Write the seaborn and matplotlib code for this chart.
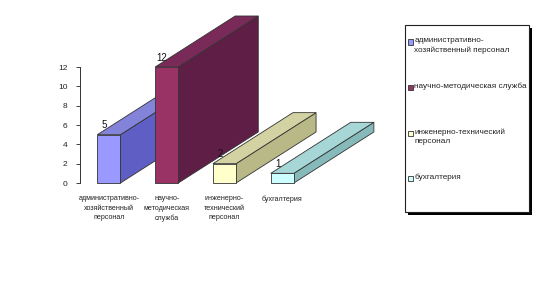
import matplotlib
matplotlib.use("Agg")
import matplotlib.pyplot as plt
from matplotlib.patches import Polygon, Rectangle
import seaborn as sns
import pandas as pd

categories = ["административно-\nхозяйственный\nперсонал",
              "научно-\nметодическая\nслужба",
              "инженерно-\nтехнический\nперсонал",
              "бухгалтерия"]
legend_labels = ["административно-\nхозяйственный персонал",
                 "научно-методическая служба",
                 "инженерно-технический\nперсонал",
                 "бухгалтерия"]
values = [5, 12, 2, 1]
yticks = [0, 2, 4, 6, 8, 10, 12]

front_colors = ["#9999FF", "#993366", "#FFFFCC", "#CCFFFF"]
side_colors = ["#5E5EC4", "#5F1E45", "#B9B987", "#86BABA"]
top_colors = ["#8383DA", "#7A2A58", "#D2D2A2", "#A6D6D6"]

sns.set_theme(style="white")
plt.rcParams['font.family'] = ['Liberation Sans', 'DejaVu Sans']

fig = plt.figure(figsize=(5.55, 2.83), dpi=100)
W, H = 555, 283
ax = fig.add_axes([80 / W, (H - 183) / H, 300 / W, 173 / H])
ax.patch.set_alpha(0)

df = pd.DataFrame({"cat": categories, "val": values})
sns.barplot(data=df, x="cat", y="val", hue="cat", palette=front_colors,
            width=0.4, legend=False, ax=ax, saturation=1,
            edgecolor="#333333", linewidth=0.6)

ax.set_xlim(-0.5, 4.69)
ax.set_ylim(0, 17.9)
dx = 80 / 57.8
dy = 51 / 9.66

for i, p in enumerate(ax.patches):
    x0, w, h = p.get_x(), p.get_width(), p.get_height()
    side = Polygon([(x0 + w, 0), (x0 + w + dx, dy), (x0 + w + dx, h + dy), (x0 + w, h)],
                   closed=True, facecolor=side_colors[i], edgecolor="#333333",
                   linewidth=0.6, clip_on=False, zorder=2 + 2 * i)
    top = Polygon([(x0, h), (x0 + dx, h + dy), (x0 + w + dx, h + dy), (x0 + w, h)],
                  closed=True, facecolor=top_colors[i], edgecolor="#333333",
                  linewidth=0.6, clip_on=False, zorder=2 + 2 * i)
    ax.add_patch(side)
    ax.add_patch(top)
    p.set_zorder(3 + 2 * i)
    p.set_clip_on(False)
    ax.text(x0 + w * 0.3, h + 0.45, str(values[i]), ha="center", va="bottom",
            fontsize=7, color="#111111", zorder=3 + 2 * i)

ax.set_xlabel("")
ax.set_ylabel("")
ax.set_yticks(yticks)
ax.set_yticklabels([str(t) for t in yticks])
ax.tick_params(axis="y", length=3, width=0.6, pad=6, labelsize=6, colors="#222222",
               left=True, direction="out")
ax.tick_params(axis="x", length=0, pad=9, labelsize=5.1, colors="#222222")
for lbl in ax.get_xticklabels():
    lbl.set_linespacing(1.45)
for s in ["top", "right", "bottom"]:
    ax.spines[s].set_visible(False)
ax.spines["left"].set_bounds(0, 12)
ax.spines["left"].set_color("#333333")
ax.spines["left"].set_linewidth(0.7)

# legend box
bx0, by0, bx1, by1 = 405, 25, 529, 212
shadow = Rectangle(((bx0 + 3) / W, (H - by1 - 3) / H), (bx1 - bx0) / W, (by1 - by0) / H,
                   transform=fig.transFigure, facecolor="black", edgecolor="none", zorder=1)
box = Rectangle((bx0 / W, (H - by1) / H), (bx1 - bx0) / W, (by1 - by0) / H,
                transform=fig.transFigure, facecolor="white", edgecolor="#222222",
                linewidth=0.8, zorder=2)
fig.patches.extend([shadow, box])
entry_y = [42, 87, 133, 178]
for i, lab in enumerate(legend_labels):
    yy = entry_y[i]
    fig.patches.append(Rectangle((408 / W, (H - yy - 2.5) / H), 5 / W, 5 / H,
                                 transform=fig.transFigure, facecolor=front_colors[i],
                                 edgecolor="#333333", linewidth=0.6, zorder=3))
    fig.text(414.5 / W, (H - yy + 4.8) / H, lab, ha="left", va="top", fontsize=5.85,
             color="#222222", linespacing=1.4, zorder=4)

fig.savefig("out.png", dpi=100)
